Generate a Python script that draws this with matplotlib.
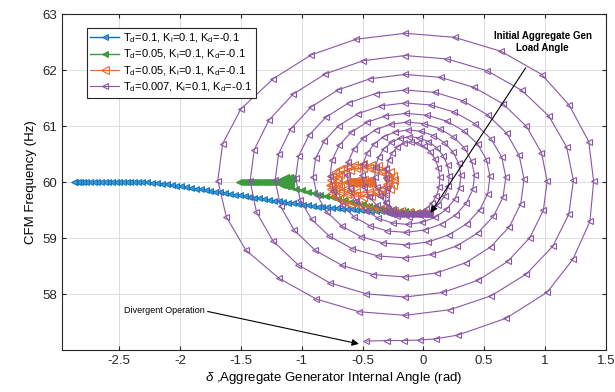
import matplotlib
matplotlib.use("Agg")
import matplotlib.pyplot as plt

plt.rcParams["font.family"] = ["Liberation Sans", "DejaVu Sans"]
plt.rcParams["mathtext.fontset"] = "custom"
plt.rcParams["mathtext.rm"] = "Liberation Sans"
plt.rcParams["mathtext.it"] = "Liberation Sans:italic"

# ---- data (delta in rad, frequency in Hz) ----
labels = [
    r"T$_\mathregular{d}$=0.1, K$_\mathregular{i}$=0.1, K$_\mathregular{d}$=-0.1",
    r"T$_\mathregular{d}$=0.05, K$_\mathregular{i}$=0.1, K$_\mathregular{d}$=-0.1",
    r"T$_\mathregular{d}$=0.05, K$_\mathregular{i}$=0.1, K$_\mathregular{d}$=-0.1",
    r"T$_\mathregular{d}$=0.007, K$_\mathregular{i}$=0.1, K$_\mathregular{d}$=-0.1",
]

# Td = 0.1 (blue)
blue_x = [0.05, 0.01, -0.03, -0.07, -0.11, -0.15, -0.19, -0.23, -0.27, -0.31,
          -0.35, -0.39, -0.43, -0.47, -0.51, -0.55, -0.59, -0.63, -0.67, -0.71,
          -0.75, -0.79, -0.83, -0.87, -0.91, -0.95, -0.99, -1.03, -1.07, -1.11,
          -1.15, -1.19, -1.23, -1.27, -1.31, -1.35, -1.39, -1.43, -1.47, -1.51,
          -1.55, -1.59, -1.63, -1.67, -1.71, -1.75, -1.79, -1.83, -1.87, -1.91,
          -1.95, -1.99, -2.03, -2.07, -2.11, -2.15, -2.19, -2.23, -2.27, -2.31,
          -2.35, -2.38, -2.41, -2.44, -2.47, -2.50, -2.53, -2.56, -2.59, -2.62,
          -2.65, -2.68, -2.71, -2.74, -2.77, -2.80, -2.82, -2.84, -2.86, -2.87]
blue_y = [59.43, 59.435, 59.44, 59.445, 59.45, 59.455, 59.46, 59.465, 59.47, 59.475,
          59.48, 59.485, 59.49, 59.495, 59.50, 59.507, 59.514, 59.521, 59.528, 59.535,
          59.542, 59.549, 59.556, 59.563, 59.57, 59.582, 59.595, 59.607, 59.62, 59.632,
          59.645, 59.657, 59.67, 59.683, 59.696, 59.709, 59.722, 59.735, 59.748, 59.761,
          59.774, 59.787, 59.80, 59.814, 59.827, 59.841, 59.854, 59.868, 59.881, 59.895,
          59.908, 59.922, 59.935, 59.947, 59.958, 59.969, 59.98, 59.987, 59.993, 59.997,
          60.0, 60.0, 60.0, 60.0, 60.0, 60.0, 60.0, 60.0, 60.0, 60.0,
          60.0, 60.0, 60.0, 60.0, 60.0, 60.0, 60.0, 60.0, 60.0, 60.0]

# Td = 0.05 (green)
green_x = [0.05, 0.0, -0.05, -0.10, -0.15, -0.20, -0.25, -0.30, -0.35, -0.40,
           -0.45, -0.50, -0.55, -0.60, -0.65, -0.70, -0.75, -0.80, -0.85, -0.90,
           -0.95, -1.00, -1.05, -1.09, -1.12,
           -1.10, -1.085, -1.075, -1.08, -1.10, -1.13, -1.16, -1.18, -1.18, -1.16,
           -1.13, -1.11, -1.11, -1.13, -1.16, -1.19, -1.21,
           -1.23, -1.245, -1.26, -1.275, -1.29, -1.305, -1.32, -1.335, -1.35, -1.365,
           -1.38, -1.395, -1.41, -1.425, -1.44, -1.455, -1.47, -1.485, -1.50, -1.515]
green_y = [59.43, 59.44, 59.45, 59.46, 59.475, 59.49, 59.505, 59.52, 59.54, 59.56,
           59.58, 59.60, 59.625, 59.65, 59.675, 59.70, 59.725, 59.75, 59.775, 59.80,
           59.83, 59.855, 59.88, 59.905, 59.93,
           59.97, 60.01, 60.05, 60.08, 60.095, 60.085, 60.06, 60.03, 59.99, 59.955,
           59.935, 59.96, 60.0, 60.03, 60.035, 60.02, 60.005,
           60.0, 60.0, 60.0, 60.0, 60.0, 60.0, 60.0, 60.0, 60.0, 60.0,
           60.0, 60.0, 60.0, 60.0, 60.0, 60.0, 60.0, 60.0, 60.0, 60.0]

# Td = 0.05 (orange)
orange_x = [0.05, 0.0, -0.06, -0.12, -0.18, -0.24, -0.30, -0.36, -0.42, -0.48,
            -0.54, -0.60, -0.65, -0.69, -0.725, -0.75, -0.76, -0.765,
            -0.76, -0.751, -0.725, -0.684, -0.63, -0.567, -0.50, -0.433, -0.37, -0.316,
            -0.275, -0.249, -0.24, -0.249, -0.275, -0.316, -0.37, -0.433, -0.50, -0.567,
            -0.63, -0.684, -0.725, -0.751,
            -0.71, -0.703, -0.682, -0.648, -0.605, -0.554, -0.50, -0.446, -0.395, -0.352,
            -0.318, -0.297, -0.29, -0.297, -0.318, -0.352, -0.395, -0.446, -0.50, -0.554,
            -0.605, -0.648, -0.682, -0.703,
            -0.625, -0.615, -0.605, -0.595, -0.585, -0.575, -0.565, -0.555, -0.545, -0.535,
            -0.525, -0.515, -0.505, -0.495, -0.485, -0.475, -0.465, -0.455, -0.445, -0.435,
            -0.43]
orange_y = [59.43, 59.44, 59.45, 59.46, 59.475, 59.49, 59.505, 59.52, 59.54, 59.56,
            59.585, 59.615, 59.65, 59.69, 59.74, 59.80, 59.87, 59.95,
            60.03, 60.105, 60.175, 60.235, 60.281, 60.31, 60.32, 60.31, 60.281, 60.235,
            60.175, 60.105, 60.03, 59.955, 59.885, 59.825, 59.779, 59.75, 59.74, 59.75,
            59.779, 59.825, 59.885, 59.955,
            60.03, 60.087, 60.14, 60.186, 60.221, 60.243, 60.25, 60.243, 60.221, 60.186,
            60.14, 60.087, 60.03, 59.973, 59.92, 59.874, 59.839, 59.817, 59.81, 59.817,
            59.839, 59.874, 59.92, 59.973,
            60.0, 60.0, 60.005, 59.995, 60.01, 59.99, 60.015, 59.985, 60.02, 59.98,
            60.025, 59.975, 60.03, 59.975, 60.03, 59.98, 60.025, 59.985, 60.02, 59.99,
            60.0]

# Td = 0.007 (purple, divergent spiral), one row per half turn
purple_x = [
    0.05, 0.035, 0.02, 0.005, -0.01, -0.025, -0.04, -0.055, -0.07, -0.085,
    -0.10, -0.12, -0.14, -0.16, -0.18, -0.20, -0.22, -0.24, -0.26, -0.28,
    -0.30, -0.31, -0.31,
    -0.296, -0.306, -0.303, -0.286, -0.255, -0.213, -0.162, -0.105, -0.047, 0.009,
    0.058, 0.098, 0.124, 0.135, 0.130, 0.108, 0.070, 0.019,
    -0.043, -0.110, -0.180, -0.247, -0.306, -0.354, -0.385, -0.399, -0.393, -0.368, -0.325, -0.265,
    -0.194, -0.115, -0.035, 0.042, 0.110, 0.163, 0.199, 0.213, 0.205, 0.175, 0.123, 0.054,
    -0.029, -0.120, -0.214, -0.303, -0.382, -0.445, -0.487, -0.505, -0.497, -0.463, -0.404, -0.325,
    -0.230, -0.125, -0.019, 0.083, 0.173, 0.244, 0.290, 0.309, 0.298, 0.258, 0.190, 0.098,
    -0.011, -0.130, -0.253, -0.369, -0.472, -0.553, -0.607, -0.629, -0.618, -0.573, -0.496, -0.393,
    -0.270, -0.135, 0.002, 0.133, 0.247, 0.338, 0.397, 0.421, 0.407, 0.354, 0.267, 0.150,
    0.012, -0.140, -0.295, -0.442, -0.570, -0.672, -0.739, -0.766, -0.750, -0.692, -0.596, -0.466,
    -0.312, -0.143, 0.029, 0.192, 0.334, 0.446, 0.519, 0.548, 0.530, 0.465, 0.357, 0.212,
    0.041, -0.145, -0.335, -0.514, -0.671, -0.794, -0.874, -0.906, -0.886, -0.814, -0.696, -0.538,
    -0.351, -0.148, 0.059, 0.254, 0.424, 0.558, 0.645, 0.678, 0.655, 0.576, 0.447, 0.275,
    0.071, -0.150, -0.375, -0.587, -0.773, -0.918, -1.013, -1.050, -1.026, -0.941, -0.800, -0.613,
    -0.392, -0.150, 0.095, 0.326, 0.528, 0.686, 0.788, 0.828, 0.801, 0.708, 0.555, 0.352,
    0.112, -0.150, -0.416, -0.668, -0.888, -1.061, -1.174, -1.218, -1.190, -1.090, -0.923, -0.701,
    -0.438, -0.150, 0.142, 0.418, 0.658, 0.847, 0.971, 1.018, 0.987, 0.876, 0.694, 0.451,
    0.163, -0.150, -0.468, -0.769, -1.031, -1.238, -1.372, -1.424, -1.390, -1.269, -1.070, -0.805,
    -0.492, -0.150, 0.197, 0.524, 0.809, 1.033, 1.178, 1.234, 1.196, 1.065, 0.848, 0.560,
    0.220, -0.150, -0.526, -0.880, -1.189, -1.46, -1.62, -1.69, -1.65, -1.50, -1.232, -0.920,
    -0.552, -0.150, 0.257, 0.640, 0.974, 1.20, 1.36, 1.40, 1.37, 1.23, 1.017, 0.680,
    0.283, 0.10, -0.03, -0.16, -0.30, -0.47]
purple_y = [
    59.43, 59.43, 59.43, 59.43, 59.43, 59.43, 59.43, 59.43, 59.43, 59.43,
    59.43, 59.43, 59.43, 59.43, 59.43, 59.43, 59.43, 59.43, 59.43, 59.44,
    59.53, 59.64, 59.77,
    59.900, 60.065, 60.232, 60.387, 60.522, 60.626, 60.693, 60.718, 60.699, 60.637,
    60.537, 60.405, 60.250, 60.083, 59.915, 59.758, 59.622, 59.518,
    59.452, 59.428, 59.448, 59.514, 59.619, 59.758, 59.921, 60.099, 60.278, 60.446, 60.593, 60.707,
    60.781, 60.810, 60.790, 60.724, 60.614, 60.470, 60.299, 60.114, 59.927, 59.751, 59.599, 59.481,
    59.405, 59.375, 59.395, 59.465, 59.582, 59.736, 59.920, 60.120, 60.323, 60.514, 60.682, 60.812,
    60.898, 60.930, 60.908, 60.831, 60.705, 60.536, 60.337, 60.120, 59.900, 59.693, 59.513, 59.371,
    59.280, 59.244, 59.268, 59.352, 59.489, 59.671, 59.887, 60.121, 60.360, 60.584, 60.780, 60.933,
    61.033, 61.071, 61.045, 60.955, 60.807, 60.610, 60.377, 60.124, 59.868, 59.626, 59.416, 59.251,
    59.145, 59.101, 59.127, 59.222, 59.380, 59.592, 59.842, 60.116, 60.394, 60.657, 60.886, 61.066,
    61.182, 61.227, 61.195, 61.088, 60.912, 60.679, 60.402, 60.101, 59.796, 59.508, 59.257, 59.060,
    58.931, 58.880, 58.913, 59.027, 59.215, 59.468, 59.766, 60.092, 60.423, 60.735, 61.008, 61.221,
    61.360, 61.414, 61.377, 61.251, 61.044, 60.768, 60.442, 60.087, 59.727, 59.388, 59.091, 58.859,
    58.708, 58.646, 58.681, 58.813, 59.035, 59.332, 59.686, 60.072, 60.465, 60.836, 61.161, 61.416,
    61.582, 61.645, 61.602, 61.451, 61.202, 60.870, 60.478, 60.049, 59.615, 59.204, 58.845, 58.563,
    58.379, 58.305, 58.349, 58.511, 58.780, 59.139, 59.566, 60.031, 60.504, 60.951, 61.341, 61.647,
    61.846, 61.923, 61.870, 61.690, 61.392, 60.996, 60.527, 60.016, 59.498, 59.009, 58.583, 58.248,
    58.030, 57.947, 58.004, 58.200, 58.524, 58.954, 59.463, 60.017, 60.579, 61.109, 61.571, 61.934,
    62.169, 62.260, 62.199, 61.988, 61.639, 61.175, 60.627, 60.030, 59.425, 58.856, 58.360, 57.972,
    57.721, 57.620, 57.684, 57.910, 58.285, 58.786, 59.380, 60.028, 60.685, 61.307, 61.849, 62.274,
    62.551, 62.658, 62.585, 62.334, 61.921, 61.372, 60.723, 60.015, 59.298, 58.621, 58.031, 57.568,
    57.267, 57.20, 57.18, 57.17, 57.17, 57.16]

x_ticks = [-2.5, -2, -1.5, -1, -0.5, 0, 0.5, 1, 1.5]
y_ticks = [58, 59, 60, 61, 62, 63]


def main():
    fig = plt.figure(figsize=(6.15, 3.92), dpi=100)
    ax = fig.add_axes([0.101, 0.107, 0.884, 0.857])

    ax.plot(blue_x, blue_y, color="#0072BD", lw=1.0, marker="<", ms=3.8,
            mfc="#3f93d0", mec="#0072BD", mew=0.6, label=labels[0])
    ax.plot(green_x, green_y, color="#3d9a3d", lw=1.0, marker="<", ms=5,
            mfc="#3d9a3d", mec="#3d9a3d", mew=0.8, label=labels[1])
    ax.plot(orange_x, orange_y, color="#E8692A", lw=0.8, marker="<", ms=6,
            mfc="none", mec="#E8692A", mew=0.8, label=labels[2])
    ax.plot(purple_x, purple_y, color="#8a56a6", lw=0.8, marker="<", ms=5,
            mfc="none", mec="#8a56a6", mew=0.8, label=labels[3])

    ax.set_xlim(-2.97, 1.5)
    ax.set_ylim(57, 63)
    ax.set_xticks(x_ticks)
    ax.set_xticklabels([f"{t:g}" for t in x_ticks])
    ax.set_yticks(y_ticks)
    ax.grid(True, color="#dcdcdc", lw=0.7)
    ax.set_axisbelow(True)
    ax.tick_params(direction="in", top=True, right=True, length=3,
                   labelsize=9.5, colors="#262626")
    for sp in ax.spines.values():
        sp.set_color("#262626")
        sp.set_linewidth(0.8)

    ax.set_xlabel(r"$\delta$ ,Aggregate Generator Internal Angle (rad)",
                  fontsize=9.5, labelpad=2)
    ax.set_ylabel("CFM Frequency (Hz)", fontsize=9.5, labelpad=4)

    leg = ax.legend(loc="upper left", bbox_to_anchor=(0.045, 0.96),
                    borderaxespad=0, fontsize=8, handlelength=2.6,
                    handletextpad=0.3, labelspacing=0.25, borderpad=0.35,
                    fancybox=False, framealpha=1)
    leg.get_frame().set_edgecolor("#262626")
    leg.get_frame().set_linewidth(0.8)

    ax.annotate("Initial Aggregate Gen\nLoad Angle", xy=(0.06, 59.45),
                xytext=(0.98, 62.5), ha="center", va="center",
                fontsize=7, fontweight="bold", linespacing=1.3,
                arrowprops=dict(arrowstyle="-|>", color="black", lw=0.8,
                                mutation_scale=10, shrinkA=10, shrinkB=0))
    ax.annotate("Divergent Operation", xy=(-0.53, 57.11),
                xytext=(-2.46, 57.7), ha="left", va="center", fontsize=6.5,
                arrowprops=dict(arrowstyle="-|>", color="black", lw=0.8,
                                mutation_scale=10, shrinkA=0, shrinkB=0,
                                relpos=(1.0, 0.5)))

    fig.savefig("out.png", dpi=100)


if __name__ == "__main__":
    main()
